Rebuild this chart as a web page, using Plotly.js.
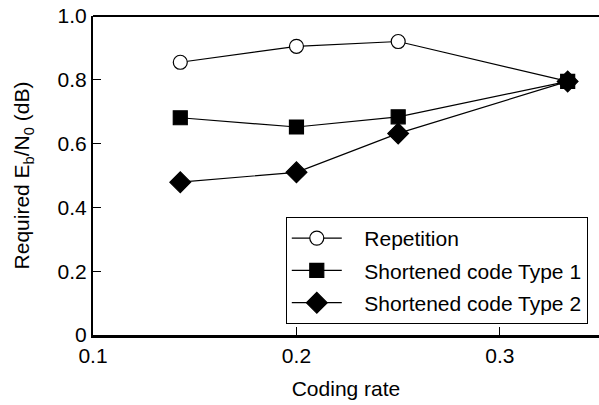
<!DOCTYPE html>
<html><head><meta charset="utf-8">
<script src="https://cdn.plot.ly/plotly-3.0.1.min.js"></script>
<style>html,body{margin:0;padding:0;background:#fff}#c{width:599px;height:405px}</style>
</head><body><div id="c"></div>
<script>
const codingRate = [0.1429, 0.2, 0.25, 0.3333];
const repetition = [0.855, 0.905, 0.92, 0.795];
const shortType1 = [0.681, 0.652, 0.684, 0.795];
const shortType2 = [0.479, 0.510, 0.632, 0.795];
const seriesNames = ['Repetition', 'Shortened code Type 1', 'Shortened code Type 2'];
const yTicks = [0, 0.2, 0.4, 0.6, 0.8, 1.0];
const yTickText = ['0', '0.2', '0.4', '0.6', '0.8', '1.0'];
const xTicks = [0.1, 0.2, 0.3];
const xTickText = ['0.1', '0.2', '0.3'];

const font = 'Liberation Sans, Arial, sans-serif';
const pad = '\u00a0\u00a0\u00a0';
const mk = (y, name, symbol, size, fill, grp) => ({
  x: codingRate, y: y, name: pad + name, type: 'scatter', mode: 'lines+markers',
  legendgroup: grp,
  line: {color: '#000', width: 1.2},
  marker: {symbol: symbol, size: size, color: fill, line: {color: '#000', width: 1.2}}
});
const data = [
  mk(repetition, seriesNames[0], 'circle', 14, '#fff', 'a'),
  mk(shortType1, seriesNames[1], 'square', 14, '#000', 'b'),
  mk(shortType2, seriesNames[2], 'diamond', 16, '#000', 'c')
];
const layout = {
  width: 599, height: 405,
  margin: {l: 93, r: 0, t: 16, b: 70},
  paper_bgcolor: '#fff', plot_bgcolor: '#fff',
  font: {family: font, size: 21, color: '#000'},
  showlegend: true,
  legend: {x: 0.381, y: 0.37, xanchor: 'left', yanchor: 'top',
    bgcolor: '#fff', bordercolor: '#000', borderwidth: 1,
    traceorder: 'grouped', tracegroupgap: 2, itemwidth: 50,
    font: {family: font, size: 21, color: '#000'}},
  xaxis: {range: [0.1, 0.3487], tickmode: 'array', tickvals: xTicks, ticktext: xTickText,
    ticks: 'inside', ticklen: 8, tickwidth: 1, tickcolor: '#000',
    showline: true, linewidth: 2.5, linecolor: '#000', showgrid: false, zeroline: false,
    tickfont: {size: 21}, title: {text: 'Coding rate', font: {size: 21}, standoff: 16}},
  yaxis: {range: [0, 1.0], tickmode: 'array', tickvals: yTicks, ticktext: yTickText,
    ticks: 'inside', ticklen: 8, tickwidth: 1, tickcolor: '#000',
    showline: true, linewidth: 2, linecolor: '#000', showgrid: false, zeroline: false,
    tickfont: {size: 21}, title: {text: 'Required E<sub>b</sub>/N<sub>0</sub> (dB)', font: {size: 21}, standoff: 22}},
  shapes: [{type: 'line', xref: 'paper', yref: 'paper', x0: 0, x1: 1, y0: 1, y1: 1,
    line: {color: '#000', width: 2}}]
};
Plotly.newPlot('c', data, layout, {staticPlot: true, displayModeBar: false});
</script></body></html>
